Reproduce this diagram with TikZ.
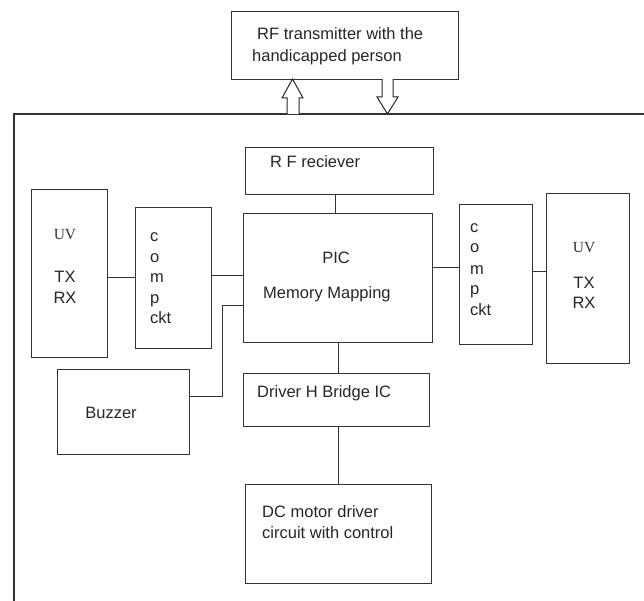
\documentclass[tikz,border=0pt]{standalone}
\usepackage{fontspec}
\setmainfont{Liberation Sans}
\newfontfamily\serifuv{Liberation Serif}
\begin{document}
\begin{tikzpicture}[x=1pt,y=-1pt,
  box/.style={draw=black!80,line width=1pt,rectangle,inner sep=0pt,anchor=north west},
  wire/.style={draw=black!80,line width=1pt},
  lbl/.style={inner sep=0pt,anchor=base west,font=\fontsize{16.5}{19}\selectfont,text=black!85},
  clbl/.style={inner sep=0pt,anchor=base,font=\fontsize{16.5}{19}\selectfont,text=black!85},
  uvlbl/.style={inner sep=0pt,anchor=base,font=\serifuv\fontsize{15.5}{18}\selectfont,text=black!80},
  hollow/.style={draw=black!85,line width=1pt,fill=white,line join=miter}]
\useasboundingbox (0,0) rectangle (644,601);
% frame
\coordinate (fr1) at (644,114);
\coordinate (fr2) at (14,114);
\coordinate (fr3) at (14,601);
\draw[wire,line width=1.3pt] (fr1) -- (fr2) -- (fr3);
% boxes
\node[box,minimum width=227pt,minimum height=68pt] (rft) at (231,11) {};
\node[box,minimum width=188pt,minimum height=47pt] (rfr) at (245,147) {};
\node[box,minimum width=189pt,minimum height=129pt] (pic) at (243,213) {};
\node[box,minimum width=76pt,minimum height=168pt] (uvl) at (31,189) {};
\node[box,minimum width=76pt,minimum height=141pt] (cpl) at (135,207) {};
\node[box,minimum width=132pt,minimum height=85pt] (bz) at (57,369) {};
\node[box,minimum width=73pt,minimum height=140pt] (cpr) at (459,204) {};
\node[box,minimum width=83pt,minimum height=170pt] (uvr) at (546,193) {};
\node[box,minimum width=186pt,minimum height=53pt] (drv) at (243,373) {};
\node[box,minimum width=186pt,minimum height=99pt] (dc) at (245,484) {};
% texts
\node[lbl] (t1) at (257,40) {RF transmitter with the};
\node[lbl] (t2) at (252,62) {handicapped person};
\node[lbl] (t3) at (270,168) {R F reciever};
\node[clbl] (t4) at (336,264) {PIC};
\node[lbl] (t5) at (263,298) {Memory Mapping};
\node[uvlbl] (u1) at (65,240) {UV};
\node[clbl] (u2) at (65,282) {TX};
\node[clbl] (u3) at (65,303) {RX};
\node[uvlbl] (u4) at (584,252) {UV};
\node[clbl] (u5) at (584,288) {TX};
\node[clbl] (u6) at (584,308) {RX};
\node[lbl] (cl1) at (150,242) {c};
\node[lbl] (cl2) at (150,262) {o};
\node[lbl] (cl3) at (150,282) {m};
\node[lbl] (cl4) at (150,303) {p};
\node[lbl] (cl5) at (150,323) {ckt};
\node[lbl] (cr1) at (470,233) {c};
\node[lbl] (cr2) at (470,253) {o};
\node[lbl] (cr3) at (470,274) {m};
\node[lbl] (cr4) at (470,294) {p};
\node[lbl] (cr5) at (470,315) {ckt};
\node[clbl] (t6) at (111,418) {Buzzer};
\node[lbl] (t7) at (257,397) {Driver H Bridge IC};
\node[lbl] (t8) at (262,517) {DC motor driver};
\node[lbl] (t9) at (262,538) {circuit with control};
% hollow arrows
\draw[hollow] (287,114) -- (287,98) -- (282,98) -- (292.5,79) -- (303,98) -- (299,98) -- (299,114);
\draw[hollow] (382,79) -- (382,97) -- (377,97) -- (387.5,114) -- (398,97) -- (393,97) -- (393,79);
% connectors
\draw[wire] ([xshift=-4pt]rfr.south) -- ([xshift=-4pt]rfr.south |- pic.north);
\draw[wire] (pic.south) -- (pic.south |- drv.north);
\draw[wire] (dc.north |- drv.south) -- (dc.north);
\draw[wire] (uvl.east |- 0,277) -- (cpl.west |- 0,277);
\draw[wire] (cpl.east |- 0,275) -- (pic.west |- 0,275);
\coordinate (bj) at (222,396);
\draw[wire] (pic.west |- 0,305) -| (bj) -- (bj -| bz.east);
\draw[wire] (pic.east |- 0,267) -- (cpr.west |- 0,267);
\draw[wire] (cpr.east |- 0,271) -- (uvr.west |- 0,271);
\end{tikzpicture}
\end{document}
